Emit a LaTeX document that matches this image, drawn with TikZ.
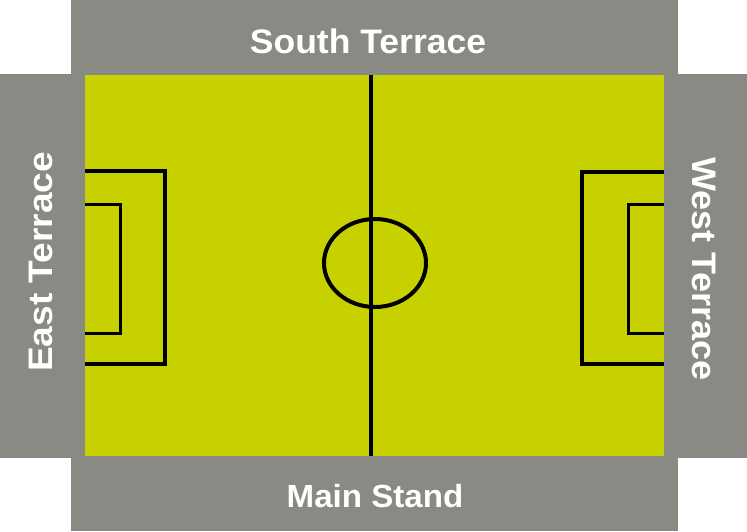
\documentclass[tikz,border=0pt]{standalone}
\usepackage{fontspec}
\setmainfont{Liberation Sans}
\definecolor{stand}{RGB}{138,138,133}
\definecolor{grass}{RGB}{200,209,0}
\tikzset{
  label/.style={text=white,font=\bfseries\fontsize{34}{34}\selectfont,inner sep=0pt,anchor=center},
  markline/.style={draw=black,line width=4pt},
  thinline/.style={draw=black,line width=3pt}
}
\begin{document}
\begin{tikzpicture}[x=1pt,y=-1pt]
\useasboundingbox (0,0) rectangle (747,531);
\fill[white] (0,0) rectangle (747,531);
% stands
\fill[stand] (71,0) rectangle (678,531);
\fill[stand] (0,74) rectangle (747,458);
% pitch
\fill[grass] (85,75) rectangle (664,456);
% halfway line
\draw[markline] (371,75) -- (371,456);
% centre circle
\draw[markline] (375,263) ellipse [x radius=51, y radius=44];
% left boxes
\draw[markline] (85,171) -- (165,171) -- (165,364) -- (85,364);
\draw[thinline] (85,204) -- (120,204) -- (120,333) -- (85,333);
% right boxes
\draw[markline] (664,172) -- (582,172) -- (582,364) -- (664,364);
\draw[thinline] (664,204) -- (628,204) -- (628,333) -- (664,333);
% labels
\node[label,xscale=1.045] (south) at (368,41) {South Terrace};
\node[label,font=\bfseries\fontsize{32}{32}\selectfont,xscale=1.035] (main) at (375,496) {Main Stand};
\node[label,rotate=90,xscale=1.09] (east) at (41,262) {East Terrace};
\node[label,rotate=-90,xscale=1.06] (west) at (704,269) {West Terrace};
\end{tikzpicture}
\end{document}
